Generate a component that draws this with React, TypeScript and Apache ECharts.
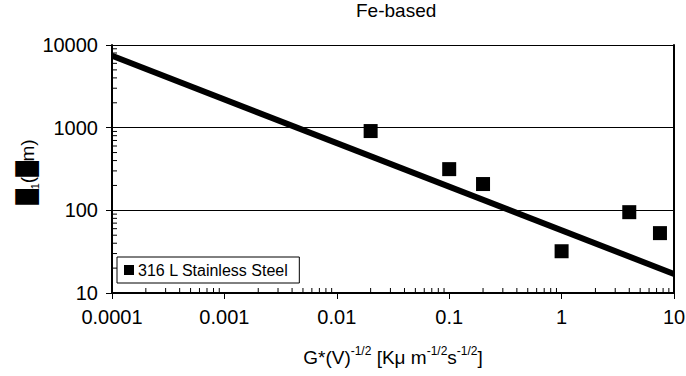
import React, { useEffect, useRef } from "react";
import * as echarts from "echarts";

const seriesName = "316 L Stainless Steel";
const gValues = [0.02, 0.1, 0.2, 1, 4, 7.5];
const lambdaValues = [910, 315, 208, 32, 95, 53];
const fitX = [0.0001, 10];
const fitY = [7400, 17];
const xTickLabels = ["0.0001", "0.001", "0.01", "0.1", "1", "10"];
const yTickLabels = ["10", "100", "1000", "10000"];
const xDecades = [0.0001, 0.001, 0.01, 0.1, 1];
const yDecades = [10, 100, 1000];
const minorMultipliers = [2, 3, 4, 5, 6, 7, 8, 9];

const FONT = "'Liberation Sans', Arial, Helvetica, sans-serif";

export default function App() {
  const ref = useRef<HTMLDivElement>(null);
  useEffect(() => {
    document.body.style.margin = "0";
    if (!ref.current) return;
    const chart = echarts.init(ref.current, undefined, { renderer: "svg" });

    const minorData: number[][] = [];
    xDecades.forEach((d) => minorMultipliers.forEach((m) => minorData.push([m * d, 10, 0])));
    yDecades.forEach((d) => minorMultipliers.forEach((m) => minorData.push([0.0001, m * d, 1])));

    chart.setOption({
      animation: false,
      backgroundColor: "#fff",
      title: {
        text: "Fe-based",
        left: 356,
        top: 1,
        padding: 0,
        textStyle: { fontFamily: FONT, fontSize: 19, fontWeight: "normal", color: "#000" },
      },
      legend: {
        data: [seriesName],
        left: 117,
        top: 257,
        orient: "horizontal",
        backgroundColor: "#fff",
        borderColor: "#000",
        borderWidth: 1,
        borderRadius: 0,
        padding: [5, 11, 5, 7],
        itemWidth: 10,
        itemHeight: 10,
        itemGap: 5,
        icon: "rect",
        itemStyle: { color: "#000", opacity: 1 },
        textStyle: { fontFamily: FONT, fontSize: 16, color: "#000", padding: [0, 0, 0, -1] },
      },
      grid: { left: 112, right: 12, top: 45, bottom: 83, containLabel: false, outerBoundsMode: "none" },
      xAxis: {
        type: "log",
        logBase: 10,
        min: 0.0001,
        max: 10,
        name: "{a|G*(V)}{s|-1/2}{a| [Kμ m}{s|-1/2}{a|s}{s|-1/2}{a|]}",
        nameLocation: "middle",
        nameGap: 52,
        nameMoveOverlap: false,
        nameTextStyle: {
          rich: {
            a: { fontFamily: FONT, fontSize: 19, color: "#000", lineHeight: 24 },
            s: { fontFamily: FONT, fontSize: 12, color: "#000", verticalAlign: "top", lineHeight: 14 },
          },
        },
        axisLine: { show: true, lineStyle: { color: "#000", width: 2 } },
        axisTick: { show: true, inside: false, length: 6, lineStyle: { color: "#000", width: 1 } },
        axisLabel: {
          fontFamily: FONT,
          fontSize: 20,
          color: "#000",
          margin: 14,
          formatter: (v: number) => xTickLabels[Math.round(Math.log10(v)) + 4] ?? "",
        },
        splitLine: { show: false },
      },
      yAxis: [
        {
          type: "log",
          logBase: 10,
          min: 10,
          max: 10000,
          axisLine: { show: true, lineStyle: { color: "#000", width: 2 } },
          axisTick: { show: true, inside: false, length: 6, lineStyle: { color: "#000", width: 1 } },
          axisLabel: {
            fontFamily: FONT,
            fontSize: 20,
            color: "#000",
            margin: 14,
            formatter: (v: number) => yTickLabels[Math.round(Math.log10(v)) - 1] ?? "",
          },
          splitLine: { show: true, lineStyle: { color: "#000", width: 1 } },
          name: "{b|█}{u|1}{n|(}{b|█}{n|m)}",
          nameLocation: "middle",
          nameGap: 72,
          nameRotate: 90,
          nameMoveOverlap: false,
          nameTextStyle: {
            padding: [0, 6, 0, 0],
            rich: {
              b: { fontFamily: "DejaVu Sans", fontSize: 20, color: "#000", lineHeight: 26 },
              u: { fontFamily: FONT, fontSize: 11, color: "#000", verticalAlign: "bottom", lineHeight: 10 },
              n: { fontFamily: FONT, fontSize: 19, color: "#000", lineHeight: 26 },
            },
          },
        },
        {
          type: "log",
          logBase: 10,
          min: 10,
          max: 10000,
          position: "right",
          axisLine: { show: true, lineStyle: { color: "#000", width: 2 } },
          axisTick: { show: false },
          axisLabel: { show: false },
          splitLine: { show: false },
        },
      ],
      series: [
        {
          type: "line",
          data: fitX.map((x, i) => [x, fitY[i]]),
          symbol: "none",
          lineStyle: { color: "#000", width: 6 },
          silent: true,
          z: 3,
        },
        {
          name: seriesName,
          type: "scatter",
          data: gValues.map((x, i) => [x, lambdaValues[i]]),
          symbol: "rect",
          symbolSize: 14,
          itemStyle: { color: "#000", opacity: 1 },
          z: 4,
        },
        {
          type: "custom",
          silent: true,
          clip: false,
          data: minorData,
          encode: { x: 0, y: 1 },
          renderItem: (params: any, api: any) => {
            const p = api.coord([api.value(0), api.value(1)]);
            const dir = api.value(2);
            const shape =
              dir === 0
                ? { x1: p[0], y1: p[1], x2: p[0], y2: p[1] - 5 }
                : { x1: p[0], y1: p[1], x2: p[0] + 5, y2: p[1] };
            return { type: "line", shape, style: { stroke: "#000", lineWidth: 1 } };
          },
          z: 5,
        },
      ],
    });
    return () => chart.dispose();
  }, []);
  return <div ref={ref} style={{ width: 686, height: 376 }} />;
}
